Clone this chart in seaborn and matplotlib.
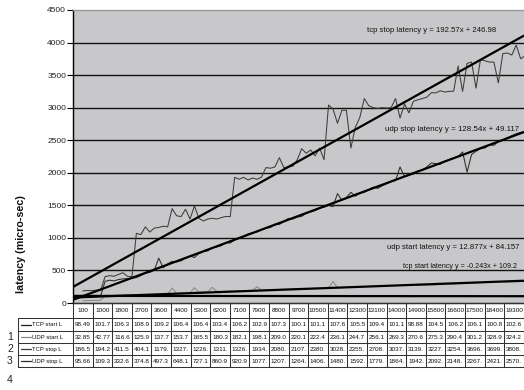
import numpy as np
import pandas as pd
import matplotlib
matplotlib.use("Agg")
import matplotlib.pyplot as plt
import seaborn as sns
from matplotlib.lines import Line2D
from matplotlib.transforms import Bbox

# ---------------- data ----------------
loads = list(range(100, 20000, 200))  # sampled load positions of the line series

tcp_start = [98, 99, 101, 102, 101, 104, 106, 106, 106, 107,
             108, 109, 109, 108, 109, 109, 109, 108, 108, 107,
             106, 106, 106, 106, 106, 106, 105, 104, 103, 103,
             103, 104, 105, 106, 106, 106, 105, 104, 103, 103,
             104, 106, 107, 107, 106, 104, 102, 101, 100, 100,
             100, 101, 101, 103, 105, 107, 108, 107, 106, 105,
             105, 106, 107, 108, 109, 109, 108, 105, 102, 101,
             101, 100, 99, 99, 99, 100, 102, 104, 104, 105,
             106, 106, 106, 106, 106, 106, 106, 105, 104, 103,
             102, 101, 101, 101, 102, 102, 103, 103, 103, 103]

udp_start = [33, 36, 40, 38, 43, 110, 112, 115, 117, 118,
             120, 122, 124, 126, 127, 130, 132, 135, 138, 140,
             230, 146, 154, 150, 156, 235, 166, 168, 172, 240,
             180, 178, 181, 183, 182, 185, 188, 190, 192, 250,
             198, 201, 204, 209, 208, 212, 215, 218, 220, 219,
             221, 222, 224, 226, 228, 232, 330, 236, 238, 240,
             242, 245, 247, 250, 252, 256, 258, 262, 266, 269,
             268, 270, 272, 271, 270, 272, 274, 275, 275, 278,
             282, 286, 290, 290, 293, 296, 299, 301, 305, 312,
             320, 326, 329, 327, 325, 324, 324, 326, 328, 330]

tcp_stop = [186, 192, 190, 198, 194, 405, 420, 411, 440, 465,
            410, 404, 1070, 1050, 1170, 1090, 1150, 1160, 1179, 1170,
            1450, 1340, 1327, 1440, 1290, 1490, 1300, 1260, 1290, 1300,
            1290, 1311, 1330, 1326, 1930, 1900, 1930, 1890, 1920, 1900,
            1934, 2080, 2070, 2090, 2232, 2080, 2090, 2100, 2200, 2370,
            2300, 2350, 2260, 2380, 2200, 3040, 2980, 2760, 2960, 2960,
            2380, 2700, 2850, 3140, 3030, 3000, 2990, 3000, 2995, 3000,
            3140, 2840, 3060, 2920, 3100, 3120, 3140, 3160, 3230, 3227,
            3260, 3240, 3250, 3254, 3640, 3250, 3680, 3700, 3300, 3740,
            3720, 3700, 3700, 3380, 3830, 3840, 3808, 3960, 3750, 3800]

udp_stop = [100, 100, 105, 110, 109, 333, 350, 340, 360, 370,
            375, 380, 390, 420, 460, 470, 500, 690, 540, 600,
            640, 630, 648, 690, 720, 700, 760, 790, 800, 850,
            860, 880, 930, 920, 970, 1000, 1020, 1060, 1077, 1090,
            1130, 1150, 1160, 1210, 1207, 1250, 1300, 1290, 1320, 1330,
            1380, 1400, 1420, 1460, 1470, 1500, 1480, 1680, 1580, 1620,
            1700, 1640, 1690, 1700, 1740, 1780, 1760, 1800, 1830, 1864,
            1880, 2090, 1940, 1960, 1980, 2030, 2040, 2090, 2150, 2140,
            2130, 2180, 2200, 2230, 2250, 2320, 2010, 2280, 2330, 2370,
            2380, 2430, 2421, 2480, 2500, 2540, 2570, 2600, 2620, 2640]

# trendlines (Excel linear fits, x = point index)
trend_labels = ["tcp stop latency y = 192.57x + 246.98",
                "udp stop latency y = 128.54x + 49.117",
                "udp start latency y = 12.877x + 84.157",
                "tcp start latency y = -0.243x + 109.2"]
trend_slopes = [192.57, 128.54, 12.877, -0.243]
trend_intercepts = [246.98, 49.117, 84.157, 109.2]

# data table
table_cols = ["100", "1000", "1800", "2700", "3600", "4400", "5300", "6200",
              "7100", "7900", "8800", "9700", "10500", "11400", "12300",
              "13100", "14000", "14900", "15800", "16600", "17500", "18400", "19300"]
table_names = ["TCP start L", "UDP start L", "TCP stop L", "UDP stop L"]
tbl_tcp_start = [98.49, 101.7, 106.3, 108.9, 109.2, 106.4, 106.4, 103.4, 106.2, 102.9,
                 107.3, 100.1, 101.1, 107.6, 105.5, 109.4, 101.1, 98.88, 104.5, 106.2,
                 106.1, 100.8, 102.6]
tbl_udp_start = [32.85, 42.77, 116.6, 125.9, 137.7, 153.7, 165.5, 180.3, 182.1, 198.1,
                 209.0, 220.1, 222.4, 236.1, 244.7, 256.1, 269.3, 270.6, 275.3, 290.4,
                 301.2, 328.9, 324.2]
tbl_tcp_stop = [186.5, 194.2, 411.5, 404.1, 1179.0, 1327.0, 1226.0, 1311.0, 1326.0, 1934.0,
                2080.0, 2107.0, 2380.0, 3028.0, 2355.0, 2708.0, 3037.0, 3139.0, 3227.0, 3254.0,
                3696.0, 3699.0, 3808.0]
tbl_udp_stop = [95.66, 109.3, 332.6, 374.8, 497.3, 648.1, 727.1, 860.9, 920.9, 1077.0,
                1207.0, 1264.0, 1406.0, 1480.0, 1592.0, 1779.0, 1864.0, 1942.0, 2092.0, 2148.0,
                2267.0, 2421.0, 2570.0]
row_numbers = ["1", "2", "3", "4"]
y_ticks = [0, 500, 1000, 1500, 2000, 2500, 3000, 3500, 4000, 4500]

# ---------------- style ----------------
sns.set_theme(style="white")
FONT = ["Liberation Sans", "DejaVu Sans"]
plt.rcParams["font.family"] = FONT

W, H = 524, 390
fig = plt.figure(figsize=(W / 100, H / 100), dpi=100)
fig.patch.set_facecolor("white")
renderer = fig.canvas.get_renderer()

def fit_width(t, target):
    bb = t.get_window_extent(renderer)
    t.set_fontsize(t.get_fontsize() * target / bb.width)

def fit_height(t, target):
    bb = t.get_window_extent(renderer)
    t.set_fontsize(t.get_fontsize() * target / bb.height)

PL, PR, PT, PB = 73, 524, 10, 303
ax = fig.add_axes([PL / W, 1 - PB / H, (PR - PL) / W, (PB - PT) / H])
ax.set_facecolor("#c8c8cb")

# x mapping (load units -> pixels)
px_per_unit = 0.022344
x_left = 100 - (82.75 - PL) / px_per_unit
x_right = 100 + (PR - 82.75) / px_per_unit
trend_unit = 22.5 / px_per_unit

colors = {"TCP start L": "#1a1a1a", "UDP start L": "#8a8a8a",
          "TCP stop L": "#3c3c3c", "UDP stop L": "#2c2c2c"}
series = {"TCP start L": tcp_start, "UDP start L": udp_start,
          "TCP stop L": tcp_stop, "UDP stop L": udp_stop}

for yv in y_ticks[1:-1]:
    ax.axhline(yv, color="#111111", lw=1.0, zorder=1)

for name in ["UDP start L", "TCP start L", "UDP stop L", "TCP stop L"]:
    df = pd.DataFrame({"load": loads, "latency": series[name]})
    sns.lineplot(data=df, x="load", y="latency", ax=ax, color=colors[name],
                 lw=0.75, zorder=3, legend=False)

# trend lines
t0, t1 = 0.0, (x_right - x_left) / trend_unit
for s, b in zip(trend_slopes, trend_intercepts):
    ax.plot([x_left, x_right], [b + s * t0, b + s * t1], color="black", lw=1.6,
            zorder=4, solid_capstyle="butt")

ax.set_xlim(x_left, x_right)
ax.set_ylim(0, 4500)
ax.set_xticks([])
ax.set_yticks(y_ticks)
ax.set_yticklabels([str(v) for v in y_ticks], fontsize=6, family=FONT, color="#222222")
ax.tick_params(axis="y", length=4, width=0.8, color="black", direction="out", pad=1, left=True)
ax.set_xlabel("")
ax.set_ylabel("")
for sp in ["left", "bottom"]:
    ax.spines[sp].set_color("black")
    ax.spines[sp].set_linewidth(1.0)
ax.spines["top"].set_color("#9a9a9a")
ax.spines["top"].set_linewidth(1.0)
ax.spines["right"].set_visible(False)

# trend labels (pixel positions and widths)
label_pos = [(367, 31, 130), (385, 130, 136), (387, 248, 134), (403, 267, 115)]
for txt, (lx, ly, lw_) in zip(trend_labels, label_pos):
    t = fig.text(lx / W, 1 - ly / H, txt, fontsize=6, family=FONT, color="#111111",
                 ha="left", va="center")
    fit_width(t, lw_)

yl = fig.text(21.5 / W, 1 - 244 / H, "latency (micro-sec)", rotation=90, fontsize=7,
              fontweight="bold", family=FONT, ha="center", va="center", color="#111111")
fit_height(yl, 98)

# ---------------- data table ----------------
def fline(x0, y0, x1, y1, color="#333333", lw=0.75):
    fig.add_artist(Line2D([x0 / W, x1 / W], [1 - y0 / H, 1 - y1 / H],
                          transform=fig.transFigure, color=color, lw=lw))

def ftext(x, y, s, clip, **kw):
    t = fig.text(x / W, 1 - y / H, s, **kw)
    if clip is not None:
        cx0, cy0, cx1, cy1 = clip
        t.set_clip_box(Bbox.from_extents(cx0, H - cy1, cx1, H - cy0))
        t.set_clip_on(True)
    return t

col_w = 19.6
n_cols = len(table_cols)
row_edges = [303, 318, 330.5, 343, 355, 367]
lab_left = 18
FS_TAB = 4.6

for k in range(n_cols + 1):
    xk = PL + k * col_w
    fline(xk, row_edges[0], xk, row_edges[-1])
for k, c in enumerate(table_cols):
    x0 = PL + k * col_w
    ftext(x0 + col_w / 2, (row_edges[0] + row_edges[1]) / 2 + 0.5, c,
          (x0 + 0.5, row_edges[0], x0 + col_w - 0.5, row_edges[1]),
          fontsize=FS_TAB, family=FONT, ha="center", va="center", color="#111111")

fline(PL, row_edges[0], W, row_edges[0])
for ye in row_edges[1:]:
    fline(lab_left, ye, W, ye)
fline(lab_left, row_edges[1], lab_left, row_edges[-1])

tbl_rows = [tbl_tcp_start, tbl_udp_start, tbl_tcp_stop, tbl_udp_stop]
for r, (name, vals) in enumerate(zip(table_names, tbl_rows)):
    y0, y1 = row_edges[r + 1], row_edges[r + 2]
    ym = (y0 + y1) / 2 + 0.3
    fline(21, ym, 31, ym, color=colors[name], lw=0.9)
    t = ftext(31.5, ym, name, (lab_left, y0, PL - 0.5, y1), fontsize=4.3, family=FONT,
              ha="left", va="center", color="#111111")
    for k, v in enumerate(vals):
        x0 = PL + k * col_w
        s = f"{v:.2f}"[:5]
        ftext(x0 + col_w / 2, ym, s, (x0 + 0.5, y0, x0 + col_w - 0.5, y1),
              fontsize=FS_TAB, family=FONT, ha="center", va="center", color="#111111")

for num, yy in zip(row_numbers, [337, 349, 361, 380]):
    fig.text(10 / W, 1 - yy / H, num, fontsize=7.5, family=FONT,
             ha="center", va="center", color="#222222")

fig.savefig("out.png", dpi=100)
